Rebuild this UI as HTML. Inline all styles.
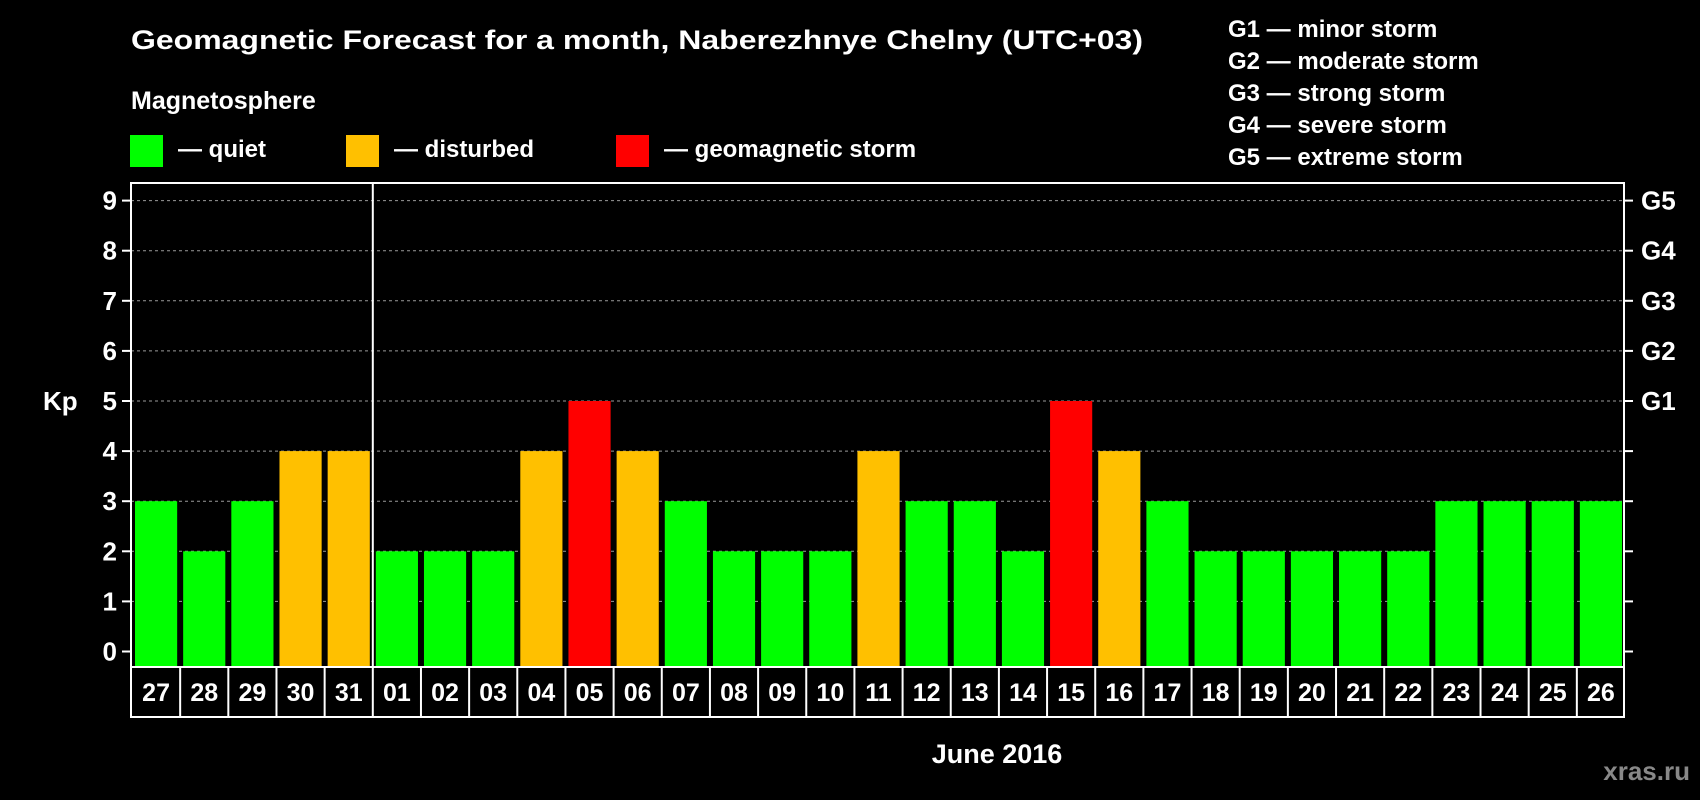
<!DOCTYPE html>
<html><head><meta charset="utf-8"><style>
html,body{margin:0;padding:0;background:#000;}
svg{display:block;font-family:"Liberation Sans",Arial,sans-serif;font-weight:bold;}
</style></head><body>
<svg id="chart" width="1700" height="800" viewBox="0 0 1700 800" xmlns="http://www.w3.org/2000/svg">
<rect x="0" y="0" width="1700" height="800" fill="#000"/>
<text x="131" y="49" fill="#fff" font-size="27" textLength="1012" lengthAdjust="spacingAndGlyphs">Geomagnetic Forecast for a month, Naberezhnye Chelny (UTC+03)</text>
<text x="131" y="109" fill="#fff" font-size="25">Magnetosphere</text>
<g>
<rect x="130" y="135" width="33" height="32" fill="#00ff00"/>
<text x="178" y="157" fill="#fff" font-size="24">— quiet</text>
<rect x="346" y="135" width="33" height="32" fill="#ffc000"/>
<text x="394" y="157" fill="#fff" font-size="24">— disturbed</text>
<rect x="616" y="135" width="33" height="32" fill="#ff0000"/>
<text x="664" y="157" fill="#fff" font-size="24">— geomagnetic storm</text>
</g>
<g fill="#fff" font-size="24">
<text x="1228" y="37">G1 — minor storm</text>
<text x="1228" y="69">G2 — moderate storm</text>
<text x="1228" y="101">G3 — strong storm</text>
<text x="1228" y="133">G4 — severe storm</text>
<text x="1228" y="165">G5 — extreme storm</text>
</g>
<g id="plot"></g>
<text x="43" y="410" fill="#fff" font-size="26">Kp</text>
<text x="997" y="763" fill="#fff" font-size="27" text-anchor="middle">June 2016</text>
<text x="1690" y="780" fill="#888" font-size="26" text-anchor="end">xras.ru</text>
</svg>
<script>
const categories = ["27","28","29","30","31","01","02","03","04","05","06","07","08","09","10","11","12","13","14","15","16","17","18","19","20","21","22","23","24","25","26"];
const kpValues = [3,2,3,4,4,2,2,2,4,5,4,3,2,2,2,4,3,3,2,5,4,3,2,2,2,2,2,3,3,3,3];
const yTicks = [0,1,2,3,4,5,6,7,8,9];
const gLabels = ["G1","G2","G3","G4","G5"];
const gLevels = [5,6,7,8,9];

const NS = "http://www.w3.org/2000/svg";
const L = 131, R = 1624, T = 183, B = 667, LB = 717;
const cw = (R - L) / categories.length;
const y = v => 651.5 - v * 50.1;
const x = i => L + i * cw;
const plot = document.getElementById('plot');
function mk(tag, attrs, parent) {
  const e = document.createElementNS(NS, tag);
  for (const k in attrs) e.setAttribute(k, attrs[k]);
  (parent || plot).appendChild(e);
  return e;
}
function color(v) { return v >= 5 ? "#ff0000" : (v >= 4 ? "#ffc000" : "#00ff00"); }

yTicks.forEach(t => {
  if (t > 0) {
    const g = mk('line', {x1: L, x2: R, y1: y(t), y2: y(t), stroke: '#9a9a9a', 'stroke-width': 1, 'stroke-dasharray': '3,3'});
    
    
  }
  const tk = mk('line', {x1: L - 9, x2: L, y1: y(t), y2: y(t), stroke: '#fff', 'stroke-width': 2});
  
  
  const tr = mk('line', {x1: R, x2: R + 9, y1: y(t), y2: y(t), stroke: '#fff', 'stroke-width': 2});
  
  
  const lb = mk('text', {x: 117, y: y(t) + 9, fill: '#fff', 'font-size': 26, 'text-anchor': 'end'});
  lb.textContent = t;
  
  
});
gLabels.forEach((g, i) => {
  const t = mk('text', {x: 1641, y: y(gLevels[i]) + 9, fill: '#fff', 'font-size': 26});
  t.textContent = g;
  
  
});
kpValues.forEach((v, i) => {
  const b = mk('rect', {x: x(i) + 4, y: y(v), width: cw - 6, height: B - y(v), fill: color(v)});
  
  
});
// frame
const fr = mk('rect', {x: L, y: T, width: R - L, height: B - T, fill: 'none', stroke: '#fff', 'stroke-width': 2});


const sep = mk('line', {x1: x(5) + 1, x2: x(5) + 1, y1: T, y2: B, stroke: '#fff', 'stroke-width': 2});


// label row
const lr = mk('rect', {x: L, y: B, width: R - L, height: LB - B, fill: 'none', stroke: '#fff', 'stroke-width': 2});


categories.forEach((c, i) => {
  if (i > 0) {
    const d = mk('line', {x1: x(i) + 1, x2: x(i) + 1, y1: B, y2: LB, stroke: '#fff', 'stroke-width': 2});
    
    
  }
  const t = mk('text', {x: x(i) + cw / 2 + 1, y: 701, fill: '#fff', 'font-size': 25, 'text-anchor': 'middle'});
  t.textContent = c;
  
  
});
</script>
</body></html>
